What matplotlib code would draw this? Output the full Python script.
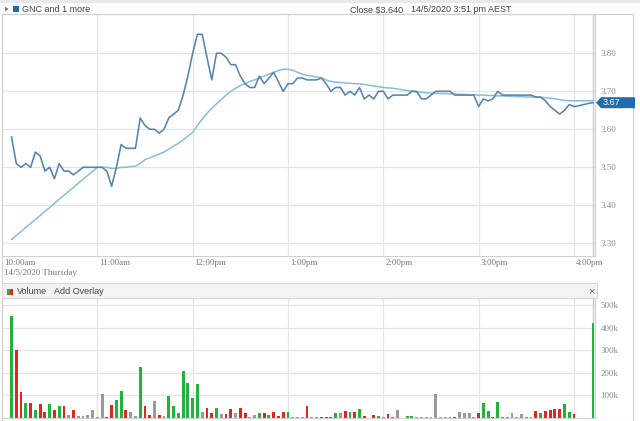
import matplotlib
matplotlib.use('Agg')
import matplotlib.pyplot as plt
import matplotlib.dates as mdates
from matplotlib.patches import Rectangle, Polygon
import matplotlib.transforms as mtransforms
import numpy as np
import pandas as pd

# 3-minute bars, 14 May 2020 (GNC)
times = pd.date_range('2020-05-14 10:06', periods=123, freq='3min')

price = [3.58, 3.51, 3.50, 3.51, 3.50, 3.54, 3.53, 3.49, 3.50, 3.47,
         3.51, 3.49, 3.49, 3.48, 3.49, 3.50, 3.50, 3.50, 3.50, 3.50,
         3.49, 3.45, 3.50, 3.56, 3.55, 3.55, 3.55, 3.63, 3.61, 3.60,
         3.60, 3.59, 3.60, 3.63, 3.64, 3.65, 3.69, 3.74, 3.80, 3.85,
         3.85, 3.79, 3.73, 3.80, 3.80, 3.79, 3.77, 3.77, 3.74, 3.72,
         3.71, 3.71, 3.74, 3.72, 3.735, 3.75, 3.725, 3.70, 3.72, 3.72,
         3.735, 3.735, 3.73, 3.73, 3.73, 3.735, 3.72, 3.70, 3.71, 3.71,
         3.69, 3.70, 3.69, 3.71, 3.68, 3.69, 3.68, 3.70, 3.70, 3.68,
         3.69, 3.69, 3.69, 3.69, 3.70, 3.70, 3.68, 3.68, 3.69, 3.70,
         3.70, 3.70, 3.70, 3.69, 3.69, 3.69, 3.69, 3.69, 3.66, 3.68,
         3.675, 3.68, 3.70, 3.69, 3.69, 3.69, 3.69, 3.69, 3.69, 3.69,
         3.685, 3.685, 3.675, 3.66, 3.65, 3.64, 3.65, 3.665, 3.66, 3.662,
         3.665, 3.668, 3.67]

avg = [3.310, 3.321, 3.331, 3.342, 3.352, 3.363, 3.373, 3.384, 3.394, 3.405,
       3.416, 3.426, 3.437, 3.447, 3.458, 3.468, 3.479, 3.489, 3.50, 3.50,
       3.50, 3.497, 3.497, 3.50, 3.50, 3.502, 3.503, 3.51, 3.52, 3.525,
       3.53, 3.535, 3.54, 3.548, 3.556, 3.563, 3.572, 3.582, 3.592, 3.61,
       3.627, 3.642, 3.655, 3.667, 3.678, 3.69, 3.70, 3.708, 3.715, 3.72,
       3.726, 3.73, 3.735, 3.74, 3.745, 3.75, 3.755, 3.758, 3.758, 3.755,
       3.75, 3.745, 3.742, 3.74, 3.738, 3.735, 3.73, 3.726, 3.724, 3.723,
       3.722, 3.721, 3.72, 3.72, 3.718, 3.716, 3.714, 3.712, 3.71, 3.709,
       3.708, 3.706, 3.704, 3.702, 3.70, 3.698, 3.697, 3.696, 3.695, 3.695,
       3.694, 3.694, 3.693, 3.693, 3.692, 3.692, 3.691, 3.691, 3.69, 3.69,
       3.689, 3.689, 3.688, 3.688, 3.687, 3.687, 3.686, 3.686, 3.685, 3.685,
       3.684, 3.684, 3.683, 3.682, 3.68, 3.678, 3.676, 3.675, 3.675, 3.675,
       3.675, 3.675, 3.675]

# volume in thousands
volume = [450, 300, 115, 66, 66, 35, 64, 27, 60, 35,
          55, 55, 15, 35, 8, 8, 12, 35, 4, 105,
          3, 57, 78, 118, 35, 25, 9, 225, 53, 12,
          75, 15, 9, 97, 53, 22, 210, 155, 90, 150,
          28, 45, 22, 45, 18, 16, 40, 20, 45, 22,
          5, 12, 20, 22, 12, 25, 10, 28, 28, 3,
          3, 3, 53, 3, 3, 6, 6, 6, 20, 24,
          31, 27, 25, 42, 9, 2, 12, 9, 6, 18,
          6, 36, 2, 9, 9, 3, 3, 3, 3, 104,
          3, 3, 3, 3, 28, 24, 21, 3, 24, 68,
          30, 6, 71, 3, 3, 21, 3, 18, 3, 3,
          33, 24, 33, 36, 40, 38, 61, 25, 16, 0,
          0, 0, 420]
vol_dir = list('grrgrgrrgrgrnrnnnnnnrrggrnngrrnrngggggggnrrgnrrnrrnngrgrrrgnnnrnn'
               'rrrgnrgrgrnrgnrgnnggnnnnnnnnrnnnnrggrgggnnnnnrgrrrrggr' 'nnng')

tick_hours = ['10:00am', '11:00am', '12:00pm', '1:00pm', '2:00pm', '3:00pm', '4:00pm']
price_ticks = [3.30, 3.40, 3.50, 3.60, 3.70, 3.80]
vol_ticks = [100, 200, 300, 400, 500]

W, H = 640, 421
fig = plt.figure(figsize=(W / 100, H / 100), dpi=100)
fig.patch.set_facecolor('white')

def fr(x0, y0, x1, y1):
    return [x0 / W, 1 - y1 / H, (x1 - x0) / W, (y1 - y0) / H]

grid_c = '#e4e4e4'
label_c = '#8a8a8a'
serif = 'Liberation Serif'
sans = 'Liberation Sans'

day = pd.Timestamp('2020-05-14')
x0 = mdates.date2num(day + pd.Timedelta('10:00:00'))
x1 = mdates.date2num(day + pd.Timedelta('16:13:15'))
hour_pos = [mdates.date2num(day + pd.Timedelta(hours=h)) for h in range(10, 17)]
tx = mdates.date2num(times)

# outer frame
fig.patches.append(Rectangle((2 / W, 1 - 421 / H), 631 / W, 407 / H,
                             transform=fig.transFigure, fill=False, ec='#d0d0d0', lw=0.8))
fig.patches.append(Rectangle((0, 1 - 3 / H), 1, 3 / H, transform=fig.transFigure,
                             fc='#e9e9e9', ec='none'))

# ---- price panel
ax = fig.add_axes(fr(2, 14, 595, 256))
ax.set_xlim(x0, x1)
ax.set_ylim(3.2666, 3.9034)
for h in hour_pos[1:]:
    ax.axvline(h, color=grid_c, lw=0.9, zorder=0)
for p in price_ticks:
    ax.axhline(p, color=grid_c, lw=0.9, zorder=0)
ax.axvline(tx[-1], color='#c8c8c8', lw=0.9, zorder=0)
ax.plot(tx, avg, color='#86bddc', lw=1.1, zorder=2)
ax.plot(tx, price, color='#5585ad', lw=1.15, zorder=3)
ax.set_xticks([])
ax.yaxis.tick_right()
ax.set_yticks(price_ticks)
ax.set_yticklabels(['%.2f' % p for p in price_ticks], color=label_c,
                   fontsize=6.5, family=serif)
ax.tick_params(axis='y', length=0, pad=4)
for s in ax.spines.values():
    s.set_color('#cfcfcf')
    s.set_linewidth(0.8)

off = mtransforms.offset_copy(ax.get_xaxis_transform(), fig=fig, x=2, y=0, units='dots')
for h, lab in zip(hour_pos, tick_hours):
    ax.text(h, -0.012, lab, transform=off, ha='left', va='top',
            fontsize=6.5, color='#777777', family=serif)
ax.text(hour_pos[0], -0.052, '14/5/2020 Thursday', transform=off, ha='left', va='top',
        fontsize=6.5, color='#777777', family=serif)

# current price badge
yb = 53.3 + (3.80 - 3.67) * 380
badge = [(596, yb), (601, yb - 5.5), (635, yb - 5.5), (635, yb + 5.5), (601, yb + 5.5)]
fig.patches.append(Polygon([(x / W, 1 - y / H) for x, y in badge], closed=True,
                           transform=fig.transFigure, fc='#1f6eab', ec='none'))
fig.text(603 / W, 1 - yb / H, '3.67', color='white', fontsize=6.5, va='center',
         ha='left', family=sans)

# header
fig.patches.append(Polygon([(5 / W, 1 - 6.5 / H), (5 / W, 1 - 11.5 / H), (8.5 / W, 1 - 9 / H)],
                           closed=True, transform=fig.transFigure, fc='#777777', ec='none'))
fig.patches.append(Rectangle((13 / W, 1 - 12 / H), 6 / W, 6 / H, transform=fig.transFigure,
                             fc='#1f6eab', ec='none'))
fig.text(22 / W, 1 - 9 / H, 'GNC and 1 more', fontsize=6.5, color='#444444',
         va='center', family=sans)
fig.text(350 / W, 1 - 10 / H, 'Close $3.640', fontsize=6.5, color='#444444',
         va='center', family=sans)
fig.text(411 / W, 1 - 10 / H, '14/5/2020 3:51 pm AEST', fontsize=6.5, color='#444444',
         va='center', family=sans)

# ---- volume header strip
fig.patches.append(Rectangle((2 / W, 1 - 298 / H), 595 / W, 15 / H, transform=fig.transFigure,
                             fc='#f3f3f3', ec='#d8d8d8', lw=0.8))
fig.patches.append(Rectangle((7 / W, 1 - 295 / H), 3 / W, 6 / H, transform=fig.transFigure,
                             fc='#22b33c', ec='none'))
fig.patches.append(Rectangle((10 / W, 1 - 295 / H), 3 / W, 6 / H, transform=fig.transFigure,
                             fc='#e0261e', ec='none'))
fig.text(17 / W, 1 - 292 / H, 'Volume', fontsize=6.5, color='#444444', va='center', family=sans)
fig.text(54 / W, 1 - 292 / H, 'Add Overlay', fontsize=6.5, color='#444444', va='center',
         family=sans)
fig.text(588 / W, 1 - 291 / H, '\u00d7', fontsize=8, color='#666666', va='center', family=sans)

# ---- volume panel
vx = fig.add_axes(fr(2, 298, 595, 418))
vx.set_xlim(x0, x1)
vx.set_ylim(0, 531)
for h in hour_pos[1:]:
    vx.axvline(h, color=grid_c, lw=0.9, zorder=0)
for v in vol_ticks:
    vx.axhline(v, color=grid_c, lw=0.9, zorder=0)
vx.axvline(tx[-1], color='#c8c8c8', lw=0.9, zorder=0)
cmap = {'g': '#22b33c', 'r': '#e0261e', 'n': '#9a9a9a'}
vx.bar(tx, volume, width=1.8 / 1440, color=[cmap[c] for c in vol_dir], zorder=2)
vx.set_xticks([])
vx.yaxis.tick_right()
vx.set_yticks(vol_ticks)
vx.set_yticklabels(['%dk' % v for v in vol_ticks], color=label_c, fontsize=6.5, family=serif)
vx.tick_params(axis='y', length=0, pad=4)
for s in vx.spines.values():
    s.set_color('#cfcfcf')
    s.set_linewidth(0.8)

fig.savefig('out.png', dpi=100, facecolor='white')
